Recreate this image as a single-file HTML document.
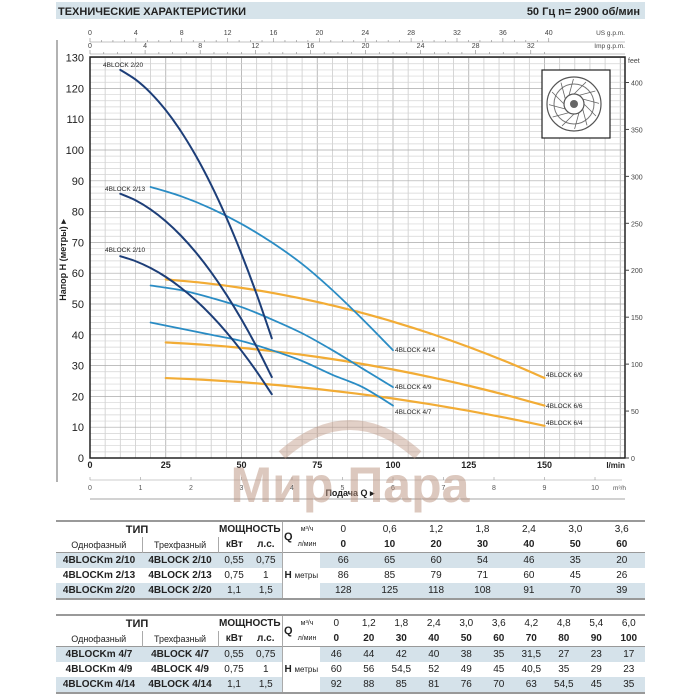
<!DOCTYPE html>
<html><head><meta charset="utf-8"><style>
body{margin:0;background:#fff;width:700px;height:700px;overflow:hidden;position:relative;font-family:"Liberation Sans",sans-serif;}
svg{position:absolute;left:0;top:0}
table{position:absolute;border-collapse:collapse;table-layout:fixed;font-size:10px;color:#222;}
td{text-align:center;padding:0;height:15px;white-space:nowrap;overflow:hidden;}
.b{font-weight:bold}
td.s{background:#d5e2ea}
</style></head><body>
<svg id="s" width="700" height="700" viewBox="0 0 700 700" font-family="Liberation Sans, sans-serif"></svg>
<table style="left:56px;top:520px;width:589px;border-top:2px solid #999;border-bottom:2px solid #999">
<colgroup><col style="width:86px"><col style="width:76px"><col style="width:32px"><col style="width:32px"><col style="width:12px"><col style="width:26px"><col span="7" style="width:46.4px"></colgroup>
<tr><td class="b" colspan="2" style="font-size:11px">ТИП</td><td class="b" colspan="2" style="font-size:10px">МОЩНОСТЬ</td><td rowspan="2" class="b" style="font-size:11px;border-left:1px solid #aaa">Q</td><td style="font-size:7px">м³/ч</td><td>0</td><td>0,6</td><td>1,2</td><td>1,8</td><td>2,4</td><td>3,0</td><td>3,6</td></tr>
<tr style="border-bottom:1px solid #999"><td style="font-size:9px">Однофазный</td><td style="font-size:9px;border-left:1px solid #aaa">Трехфазный</td><td class="b" style="border-left:1px solid #aaa">кВт</td><td class="b">л.с.</td><td style="font-size:7px">л/мин</td><td class="b">0</td><td class="b">10</td><td class="b">20</td><td class="b">30</td><td class="b">40</td><td class="b">50</td><td class="b">60</td></tr>
<tr><td class="s b">4BLOCKm 2/10</td><td class="s b">4BLOCK 2/10</td><td class="s">0,55</td><td class="s">0,75</td><td colspan="2" rowspan="3" style="border-left:1px solid #aaa"><b>H</b> <span style="font-size:8px">метры</span></td><td class="s">66</td><td class="s">65</td><td class="s">60</td><td class="s">54</td><td class="s">46</td><td class="s">35</td><td class="s">20</td></tr>
<tr><td class="b">4BLOCKm 2/13</td><td class="b">4BLOCK 2/13</td><td>0,75</td><td>1</td><td>86</td><td>85</td><td>79</td><td>71</td><td>60</td><td>45</td><td>26</td></tr>
<tr><td class="s b">4BLOCKm 2/20</td><td class="s b">4BLOCK 2/20</td><td class="s">1,1</td><td class="s">1,5</td><td class="s">128</td><td class="s">125</td><td class="s">118</td><td class="s">108</td><td class="s">91</td><td class="s">70</td><td class="s">39</td></tr>
</table>
<table style="left:56px;top:614px;width:589px;border-top:2px solid #999;border-bottom:2px solid #999">
<colgroup><col style="width:86px"><col style="width:76px"><col style="width:32px"><col style="width:32px"><col style="width:12px"><col style="width:26px"><col span="10" style="width:32.5px"></colgroup>
<tr><td class="b" colspan="2" style="font-size:11px">ТИП</td><td class="b" colspan="2" style="font-size:10px">МОЩНОСТЬ</td><td rowspan="2" class="b" style="font-size:11px;border-left:1px solid #aaa">Q</td><td style="font-size:7px">м³/ч</td><td>0</td><td>1,2</td><td>1,8</td><td>2,4</td><td>3,0</td><td>3,6</td><td>4,2</td><td>4,8</td><td>5,4</td><td>6,0</td></tr>
<tr style="border-bottom:1px solid #999"><td style="font-size:9px">Однофазный</td><td style="font-size:9px;border-left:1px solid #aaa">Трехфазный</td><td class="b" style="border-left:1px solid #aaa">кВт</td><td class="b">л.с.</td><td style="font-size:7px">л/мин</td><td class="b">0</td><td class="b">20</td><td class="b">30</td><td class="b">40</td><td class="b">50</td><td class="b">60</td><td class="b">70</td><td class="b">80</td><td class="b">90</td><td class="b">100</td></tr>
<tr><td class="s b">4BLOCKm 4/7</td><td class="s b">4BLOCK 4/7</td><td class="s">0,55</td><td class="s">0,75</td><td colspan="2" rowspan="3" style="border-left:1px solid #aaa"><b>H</b> <span style="font-size:8px">метры</span></td><td class="s">46</td><td class="s">44</td><td class="s">42</td><td class="s">40</td><td class="s">38</td><td class="s">35</td><td class="s">31,5</td><td class="s">27</td><td class="s">23</td><td class="s">17</td></tr>
<tr><td class="b">4BLOCKm 4/9</td><td class="b">4BLOCK 4/9</td><td>0,75</td><td>1</td><td>60</td><td>56</td><td>54,5</td><td>52</td><td>49</td><td>45</td><td>40,5</td><td>35</td><td>29</td><td>23</td></tr>
<tr><td class="s b">4BLOCKm 4/14</td><td class="s b">4BLOCK 4/14</td><td class="s">1,1</td><td class="s">1,5</td><td class="s">92</td><td class="s">88</td><td class="s">85</td><td class="s">81</td><td class="s">76</td><td class="s">70</td><td class="s">63</td><td class="s">54,5</td><td class="s">45</td><td class="s">35</td></tr>
</table>
<script>
const X=q=>90+q*3.03, Y=h=>458-h*3.08;
let o='';
o+='<rect x="56" y="2" width="589" height="17" fill="#d6e3ea"/>';
o+='<text x="58" y="15" font-size="11" font-weight="bold" fill="#222">ТЕХНИЧЕСКИЕ ХАРАКТЕРИСТИКИ</text>';
o+='<text x="640" y="15" font-size="11" font-weight="bold" fill="#222" text-anchor="end">50 Гц   n= 2900 об/мин</text>';
o+='<line x1="57" y1="40" x2="57" y2="482" stroke="#666" stroke-width="1"/>';
for(let q=0;q<=176;q+=5){let x=X(q);o+=`<line x1="${x}" y1="57" x2="${x}" y2="458" stroke="${q%25==0?'#aaa':'#ccc'}" stroke-width="0.8"/>`;}
for(let h=0;h<=130;h+=2){let y=Y(h);o+=`<line x1="90" y1="${y}" x2="625" y2="${y}" stroke="${h%10==0?'#aaa':'#d4d4d4'}" stroke-width="0.7"/>`;}
o+='<rect x="90" y="57" width="535" height="401" fill="none" stroke="#222" stroke-width="1.5"/>';
for(let h=0;h<=130;h+=10){o+=`<text x="84" y="${Y(h)+4}" font-size="11" text-anchor="end" fill="#222">${h}</text>`;}
o+='<text transform="translate(66,260) rotate(-90)" font-size="9" font-weight="bold" text-anchor="middle" fill="#222">Напор H (метры)  ▸</text>';
o+='<text x="628" y="63" font-size="7" fill="#444">feet</text>';
for(let f=0;f<=400;f+=50){let y=458-f*0.3048*3.08;o+=`<line x1="625" y1="${y}" x2="629" y2="${y}" stroke="#444"/><text x="631" y="${y+3}" font-size="7" fill="#444">${f}</text>`;}
o+='<line x1="90" y1="42" x2="625" y2="42" stroke="#888" stroke-width="0.6"/><line x1="90" y1="54" x2="625" y2="54" stroke="#888" stroke-width="0.6"/>';
for(let g=0;g<=44;g++){let x=X(g*3.785);if(x>560)break;o+=`<line x1="${x}" y1="42" x2="${x}" y2="${g%4==0?38:40}" stroke="#888" stroke-width="0.6"/>`;if(g%4==0)o+=`<text x="${x}" y="35" font-size="7" text-anchor="middle" fill="#444">${g}</text>`;}
o+='<text x="625" y="35" font-size="6.5" text-anchor="end" fill="#444">US g.p.m.</text>';
for(let g=0;g<=36;g++){let x=X(g*4.546);if(x>545)break;o+=`<line x1="${x}" y1="54" x2="${x}" y2="${g%4==0?50:52}" stroke="#888" stroke-width="0.6"/>`;if(g%4==0)o+=`<text x="${x}" y="48" font-size="7" text-anchor="middle" fill="#444">${g}</text>`;}
o+='<text x="625" y="48" font-size="6.5" text-anchor="end" fill="#444">Imp g.p.m.</text>';
[0,25,50,75,100,125,150].forEach(q=>o+=`<text x="${X(q)}" y="468" font-size="9" font-weight="bold" text-anchor="middle" fill="#222">${q}</text>`);
o+='<text x="625" y="468" font-size="8" font-weight="bold" text-anchor="end" fill="#222">l/min</text>';
o+='<line x1="90" y1="480" x2="622" y2="480" stroke="#999" stroke-width="0.6"/>';
for(let m=0;m<=10;m++){let x=X(m*16.667);o+=`<line x1="${x}" y1="480" x2="${x}" y2="477" stroke="#999" stroke-width="0.6"/><text x="${x}" y="490" font-size="7" text-anchor="middle" fill="#555">${m}</text>`;}
o+='<text x="626" y="490" font-size="6.5" text-anchor="end" fill="#555">m³/h</text>';
o+='<text x="350" y="496" font-size="9" font-weight="bold" text-anchor="middle" fill="#222">Подача Q  ▸</text>';
o+='<line x1="90" y1="499" x2="625" y2="499" stroke="#888" stroke-width="0.8"/>';
o+='<path d="M282,455 Q350,395 418,455" fill="none" stroke="rgba(190,150,130,0.45)" stroke-width="10"/>';
o+='<text x="350" y="502" font-size="50" font-weight="bold" text-anchor="middle" fill="rgba(185,145,125,0.5)">Мир Пара</text>';
o+='<rect x="542" y="70" width="68" height="68" fill="#fff" stroke="#222" stroke-width="1.2"/>';
o+='<circle cx="574" cy="104" r="27" fill="none" stroke="#555" stroke-width="1.2"/><circle cx="574" cy="104" r="20" fill="none" stroke="#777" stroke-width="1"/><circle cx="574" cy="104" r="10" fill="none" stroke="#555" stroke-width="1.2"/><circle cx="574" cy="104" r="4" fill="#666"/>';
for(let a=0;a<360;a+=30){let r=a*Math.PI/180;o+=`<line x1="${574+10*Math.cos(r)}" y1="${104+10*Math.sin(r)}" x2="${574+25*Math.cos(r+0.5)}" y2="${104+25*Math.sin(r+0.5)}" stroke="#666" stroke-width="0.8"/>`;}
function path(pts,c,w){let p=pts.map(([q,h])=>[X(q),Y(h)]);let d=`M${p[0][0]},${p[0][1]}`;for(let i=0;i<p.length-1;i++){let p0=p[i-1]||p[i],p1=p[i],p2=p[i+1],p3=p[i+2]||p2;let c1=[p1[0]+(p2[0]-p0[0])/6,p1[1]+(p2[1]-p0[1])/6],c2=[p2[0]-(p3[0]-p1[0])/6,p2[1]-(p3[1]-p1[1])/6];d+=`C${c1},${c2},${p2}`;}return `<path d="${d}" fill="none" stroke="${c}" stroke-width="${w}" stroke-linecap="round"/>`;}
const orange='#f2ac35',lb='#2a8cc4',db='#1d3e78';
[[58.9,0.001463],[38.1,0.000937],[26.4,0.000709]].forEach(([a,k])=>{let p=[];for(let q=25;q<=150;q+=12.5)p.push([q,a-k*q*q]);o+=path(p,orange,2.2);});
const q4=[20,30,40,50,60,70,80,90,100];
[[88,85,81,76,70,63,54.5,45,35],[56,54.5,52,49,45,40.5,35,29,23],[44,42,40,38,35,31.5,27,23,17]].forEach(h=>o+=path(q4.map((q,i)=>[q,h[i]]),lb,1.8));
// smooth quadratic fits for 2-series
[[128.5,0.0249],[87.5,0.017],[66.8,0.0128]].forEach(([a,k])=>{let p=[];for(let q=10;q<=60;q+=5)p.push([q,a-k*q*q]);o+=path(p,db,2);});
const lab=(x,y,t)=>o+=`<text x="${x}" y="${y}" font-size="6.5" fill="#222">${t}</text>`;
lab(103,67,'4BLOCK 2/20');lab(105,191,'4BLOCK 2/13');lab(105,252,'4BLOCK 2/10');
lab(395,352,'4BLOCK 4/14');lab(395,389,'4BLOCK 4/9');lab(395,414,'4BLOCK 4/7');
lab(546,377,'4BLOCK 6/9');lab(546,408,'4BLOCK 6/6');lab(546,425,'4BLOCK 6/4');
document.getElementById('s').innerHTML=o;
</script>
</body></html>
